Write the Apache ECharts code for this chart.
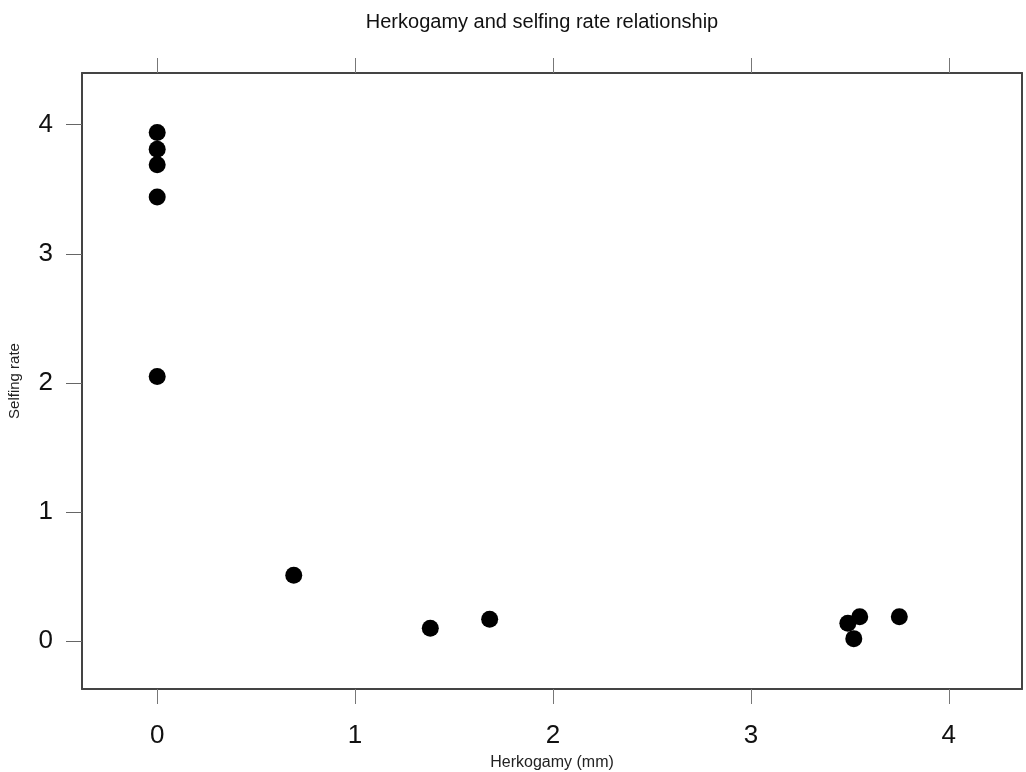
<!DOCTYPE html>
<html>
<head>
<meta charset="utf-8">
<title>Herkogamy and selfing rate relationship</title>
<script src="https://cdn.jsdelivr.net/npm/echarts@6/dist/echarts.min.js"></script>
<style>
  html, body { margin: 0; padding: 0; background: #fff; }
  #chart { width: 1026px; height: 772px; }
</style>
</head>
<body>
<div id="chart"></div>
<script>
// Herkogamy (mm) against selfing rate, one entry per plant
const herkogamy = [0, 0, 0, 0, 0, 0.69, 1.38, 1.68, 3.49, 3.55, 3.52, 3.75];
const selfingRate = [3.94, 3.81, 3.69, 3.44, 2.05, 0.51, 0.10, 0.17, 0.14, 0.19, 0.02, 0.19];
const xTicks = [0, 1, 2, 3, 4];
const yTicks = [0, 1, 2, 3, 4];

const points = herkogamy.map((x, i) => [x, selfingRate[i]]);
const font = 'Liberation Sans, Arial, sans-serif';

const chart = echarts.init(document.getElementById('chart'), null, { renderer: 'canvas' });
chart.setOption({
  backgroundColor: '#ffffff',
  animation: false,
  title: {
    text: 'Herkogamy and selfing rate relationship',
    left: 537,
    top: 7,
    textAlign: 'center',
    textStyle: { fontFamily: font, fontSize: 20, fontWeight: 'normal', color: '#111' }
  },
  grid: { left: 82, right: 4, top: 73, bottom: 83, containLabel: false, outerBoundsMode: 'none' },
  xAxis: [
    {
      type: 'value', position: 'bottom', min: -0.38, max: 4.37,
      name: 'Herkogamy (mm)', nameLocation: 'middle', nameGap: 66,
      nameTextStyle: { fontFamily: font, fontSize: 16, color: '#222' },
      axisLine: { show: true, onZero: false, lineStyle: { color: '#444', width: 2 } },
      axisTick: { show: true, customValues: xTicks, length: 15, inside: false, lineStyle: { color: '#777', width: 1 } },
      axisLabel: { show: true, customValues: xTicks, margin: 34, fontFamily: font, fontSize: 26, color: '#111' },
      splitLine: { show: false }
    },
    {
      type: 'value', position: 'top', min: -0.38, max: 4.37,
      axisLine: { show: true, onZero: false, lineStyle: { color: '#444', width: 2 } },
      axisTick: { show: true, customValues: xTicks, length: 15, inside: false, lineStyle: { color: '#777', width: 1 } },
      axisLabel: { show: false },
      splitLine: { show: false }
    }
  ],
  yAxis: [
    {
      type: 'value', position: 'left', min: -0.37, max: 4.40,
      name: 'Selfing rate', nameLocation: 'middle', nameGap: 60,
      nameTextStyle: { fontFamily: font, fontSize: 15, color: '#222' },
      axisLine: { show: true, onZero: false, lineStyle: { color: '#444', width: 2 } },
      axisTick: { show: true, customValues: yTicks, length: 16, inside: false, lineStyle: { color: '#666', width: 1 } },
      axisLabel: { show: true, customValues: yTicks, margin: 29, fontFamily: font, fontSize: 26, color: '#111' },
      splitLine: { show: false }
    },
    {
      type: 'value', position: 'right', min: -0.37, max: 4.40,
      axisLine: { show: true, onZero: false, lineStyle: { color: '#444', width: 2 } },
      axisTick: { show: false },
      axisLabel: { show: false },
      splitLine: { show: false }
    }
  ],
  series: [
    {
      type: 'scatter',
      xAxisIndex: 0,
      yAxisIndex: 0,
      data: points,
      symbol: 'circle',
      symbolSize: 17,
      itemStyle: { color: '#000000', opacity: 1 }
    }
  ]
});
</script>
</body>
</html>
